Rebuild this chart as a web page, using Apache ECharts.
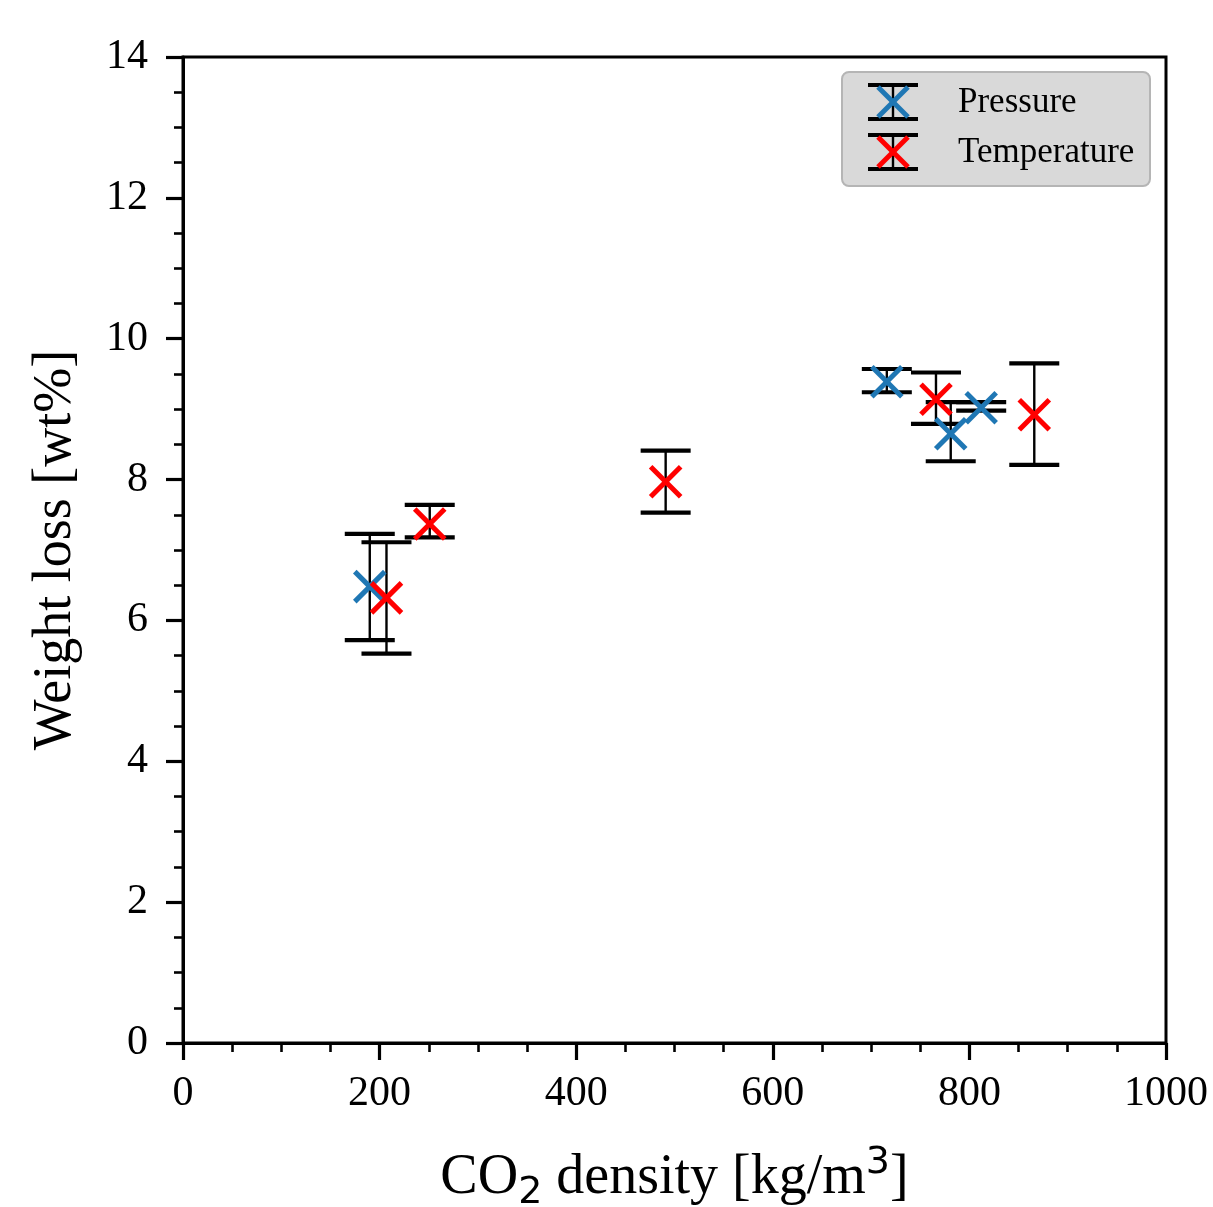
<!DOCTYPE html>
<html>
<head>
<meta charset="utf-8">
<script src="https://cdn.jsdelivr.net/npm/echarts@6/dist/echarts.min.js"></script>
<style>
html,body{margin:0;padding:0;background:#fff;}
#chart{width:1213px;height:1207px;}
</style>
</head>
<body>
<div id="chart"></div>
<script>
// ---- data ----
const xTicks = [0, 200, 400, 600, 800, 1000];
const yTicks = [0, 2, 4, 6, 8, 10, 12, 14];

const pressureX    = [190, 716, 781, 812];
const pressureY    = [6.48, 9.39, 8.65, 9.02];
const pressureLow  = [5.72, 9.24, 8.26, 8.98];
const pressureHigh = [7.23, 9.57, 9.10, 9.10];

const tempX    = [207, 251, 491, 766, 866];
const tempY    = [6.32, 7.37, 7.97, 9.14, 8.92];
const tempLow  = [5.53, 7.18, 7.53, 8.79, 8.21];
const tempHigh = [7.11, 7.64, 8.41, 9.52, 9.65];

const seriesNames = ['Pressure', 'Temperature'];
const seriesColors = ['#1f77b4', '#ff0000'];

// ---- build ----
function rows(xs, ys, lo, hi) {
  return xs.map((x, i) => [x, ys[i], lo[i], hi[i]]);
}
const pData = rows(pressureX, pressureY, pressureLow, pressureHigh);
const tData = rows(tempX, tempY, tempLow, tempHigh);

const CAP = 25;
const CAPW = 4.2;
const BARW = 2.4;
const MARKW = 5;
function errRender(params, api) {
  const x = api.value(0), lo = api.value(2), hi = api.value(3);
  const a = api.coord([x, lo]), b = api.coord([x, hi]);
  return {
    type: 'group',
    children: [
      {type: 'line', shape: {x1: a[0], y1: a[1], x2: b[0], y2: b[1]}, style: {stroke: '#000', lineWidth: BARW}},
      {type: 'line', shape: {x1: a[0] - CAP, y1: a[1], x2: a[0] + CAP, y2: a[1]}, style: {stroke: '#000', lineWidth: CAPW}},
      {type: 'line', shape: {x1: b[0] - CAP, y1: b[1], x2: b[0] + CAP, y2: b[1]}, style: {stroke: '#000', lineWidth: CAPW}}
    ]
  };
}
function markRender(color) {
  return function (params, api) {
    const p = api.coord([api.value(0), api.value(1)]);
    const s = 15;
    return {
      type: 'group',
      children: [
        {type: 'line', shape: {x1: p[0] - s, y1: p[1] - s, x2: p[0] + s, y2: p[1] + s}, style: {stroke: color, lineWidth: MARKW}},
        {type: 'line', shape: {x1: p[0] - s, y1: p[1] + s, x2: p[0] + s, y2: p[1] - s}, style: {stroke: color, lineWidth: MARKW}}
      ]
    };
  };
}

const serif = 'Liberation Serif';
const chart = echarts.init(document.getElementById('chart'));

function legendEntry(cy, color, label) {
  const cx = 893, s = 15;
  return [
    {type: 'line', shape: {x1: cx - CAP, y1: cy - 17, x2: cx + CAP, y2: cy - 17}, style: {stroke: '#000', lineWidth: CAPW}},
    {type: 'line', shape: {x1: cx - CAP, y1: cy + 17, x2: cx + CAP, y2: cy + 17}, style: {stroke: '#000', lineWidth: CAPW}},
    {type: 'line', shape: {x1: cx, y1: cy - 17, x2: cx, y2: cy + 17}, style: {stroke: '#000', lineWidth: BARW}},
    {type: 'line', shape: {x1: cx - s, y1: cy - s, x2: cx + s, y2: cy + s}, style: {stroke: color, lineWidth: MARKW}},
    {type: 'line', shape: {x1: cx - s, y1: cy + s, x2: cx + s, y2: cy - s}, style: {stroke: color, lineWidth: MARKW}},
    {type: 'text', x: 958, y: cy + 1, style: {text: label, fill: '#000', font: '35px "' + serif + '"', textVerticalAlign: 'middle'}}
  ];
}

chart.setOption({
  backgroundColor: '#fff',
  animation: false,
  grid: {left: 183, right: 47, top: 57, bottom: 164, outerBoundsMode: 'none', containLabel: false,
         show: true, borderColor: '#000', borderWidth: 3, backgroundColor: 'transparent'},
  xAxis: {
    type: 'value', min: xTicks[0], max: xTicks[xTicks.length - 1], interval: 200,
    name: 'CO{sub|2} density [kg/m{sup|3}]', nameLocation: 'middle', nameGap: 101,
    nameTextStyle: {
      fontFamily: serif, fontSize: 56, color: '#000',
      rich: {
        sub: {fontFamily: 'DejaVu Sans', fontSize: 38, color: '#000', padding: [30, 0, 0, 0]},
        sup: {fontFamily: 'DejaVu Sans', fontSize: 38, color: '#000', padding: [0, 0, 30, 0]}
      }
    },
    axisLine: {lineStyle: {color: '#000', width: 3}},
    axisTick: {show: true, length: 17, lineStyle: {color: '#000', width: 3.2}},
    minorTick: {show: true, splitNumber: 4, length: 9, lineStyle: {color: '#000', width: 2.6}},
    axisLabel: {margin: 30, fontFamily: serif, fontSize: 42, color: '#000', formatter: v => String(v)},
    splitLine: {show: false}
  },
  yAxis: {
    type: 'value', min: yTicks[0], max: yTicks[yTicks.length - 1], interval: 2,
    name: 'Weight loss [wt%]', nameLocation: 'middle', nameGap: 100,
    nameTextStyle: {fontFamily: serif, fontSize: 54, color: '#000'},
    axisLine: {lineStyle: {color: '#000', width: 3}},
    axisTick: {show: true, length: 17, lineStyle: {color: '#000', width: 3.2}},
    minorTick: {show: true, splitNumber: 4, length: 9, lineStyle: {color: '#000', width: 2.6}},
    axisLabel: {margin: 35, fontFamily: serif, fontSize: 42, color: '#000', formatter: v => String(v)},
    splitLine: {show: false}
  },
  series: [
    {type: 'custom', name: seriesNames[0] + ' err', data: pData, renderItem: errRender, encode: {x: 0, y: [2, 3]}, z: 2},
    {type: 'custom', name: seriesNames[1] + ' err', data: tData, renderItem: errRender, encode: {x: 0, y: [2, 3]}, z: 2},
    {type: 'custom', name: seriesNames[0], data: pData, renderItem: markRender(seriesColors[0]), encode: {x: 0, y: 1}, z: 3},
    {type: 'custom', name: seriesNames[1], data: tData, renderItem: markRender(seriesColors[1]), encode: {x: 0, y: 1}, z: 4}
  ],
  graphic: [{
    type: 'group',
    children: [
      {type: 'rect', shape: {x: 842, y: 72, width: 308, height: 114, r: 7}, style: {fill: '#d9d9d9', stroke: '#b5b5b5', lineWidth: 2}}
    ].concat(legendEntry(102, seriesColors[0], seriesNames[0]), legendEntry(152, seriesColors[1], seriesNames[1]))
  }]
});
</script>
</body>
</html>
